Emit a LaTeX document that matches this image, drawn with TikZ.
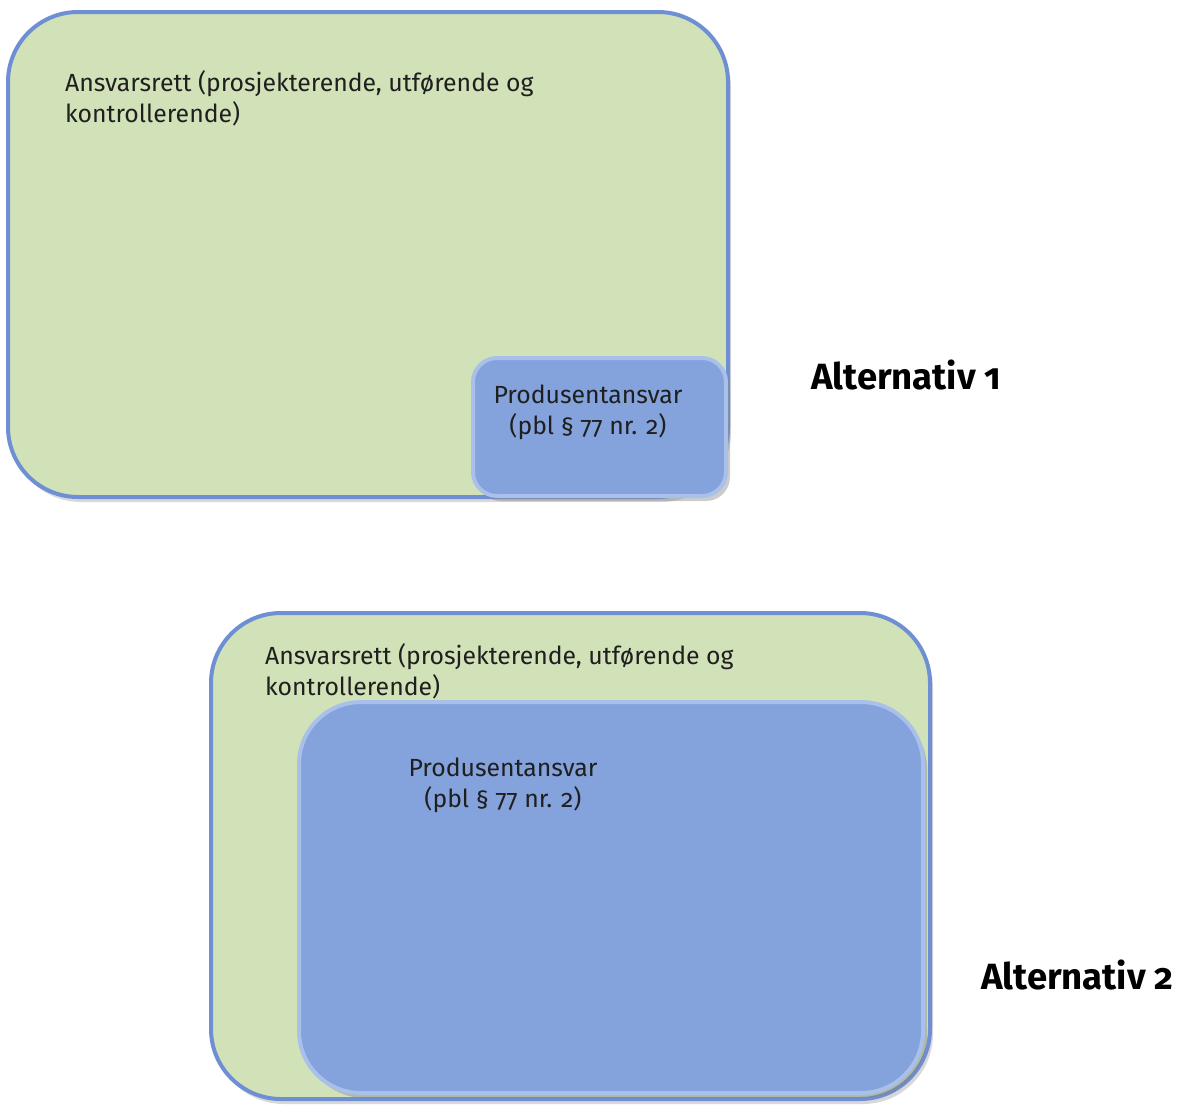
\documentclass[tikz,border=0pt]{standalone}
\usepackage{fontspec}
\setmainfont{Fira Sans}[Numbers=OldStyle]
\usetikzlibrary{shadows}
\definecolor{gfill}{HTML}{D1E2B8}
\definecolor{gline}{HTML}{6F8FD4}
\definecolor{bfill}{HTML}{84A2DC}
\definecolor{bline}{HTML}{A9C0EA}
\tikzset{
  outerbox/.style={draw=gline, fill=gfill, line width=4pt, rounded corners=70pt,
    drop shadow={opacity=0.3, shadow xshift=3pt, shadow yshift=-5pt}},
  innerbox/.style={draw=bline, fill=bfill, line width=4pt,
    drop shadow={opacity=0.4, shadow xshift=4pt, shadow yshift=-5pt}},
  lbl/.style={font=\fontsize{24.8}{31}\selectfont, text=black!88, align=left, inner sep=0pt},
  clbl/.style={font=\fontsize{24.8}{31}\selectfont, text=black!88, align=center, inner sep=0pt},
  alt/.style={font=\fontsize{36.5}{40}\selectfont\bfseries, inner sep=0pt}
}
\begin{document}
\begin{tikzpicture}[x=1pt,y=-1pt]
\useasboundingbox[fill=white] (0,0) rectangle (1199,1109);
% Alternativ 1
\path[outerbox] (8,12) rectangle (728,497);
\node[lbl, anchor=north west] (t1) at (65,70) {Ansvarsrett (prosjekterende, utførende og\\kontrollerende)};
\path[innerbox, rounded corners=24pt] (473,358) rectangle (726,496);
\node[clbl, anchor=north] (p1) at (588,385) {Produsentansvar\\(pbl § 77 nr. 2)};
\node[alt, anchor=west] (alt1) at (811,375) {Alternativ 1};
% Alternativ 2
\path[outerbox] (211,613) rectangle (930,1099);
\node[lbl, anchor=north west] (t2) at (265,643) {Ansvarsrett (prosjekterende, utførende og\\kontrollerende)};
\path[innerbox, rounded corners=62pt] (299,702) rectangle (923,1093);
\node[clbl, anchor=north] (p2) at (503,758) {Produsentansvar\\(pbl § 77 nr. 2)};
\node[alt, anchor=west] (alt2) at (981,975) {Alternativ 2};
\end{tikzpicture}
\end{document}
